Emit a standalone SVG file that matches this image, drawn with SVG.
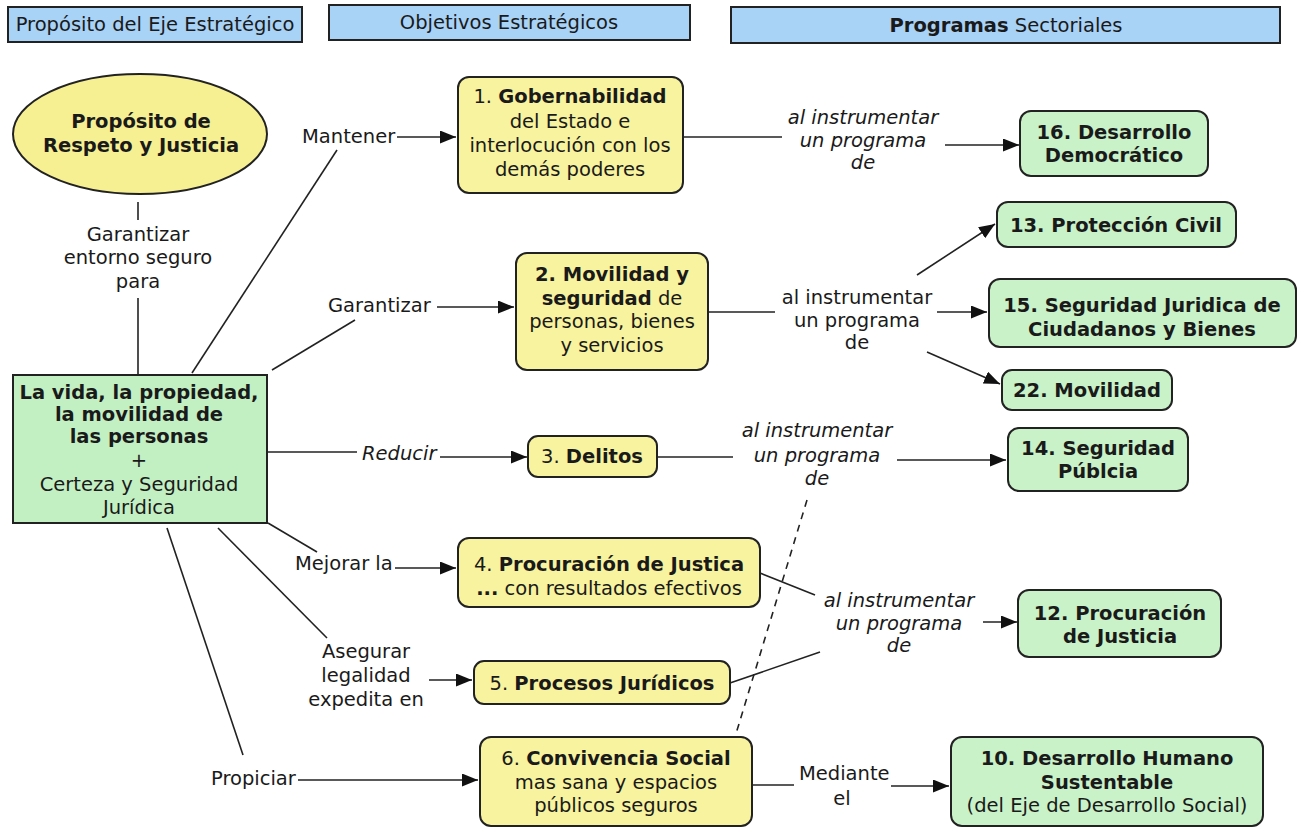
<svg xmlns="http://www.w3.org/2000/svg" width="1300" height="828" viewBox="0 0 1300 828">
<style>
text{font-family:"DejaVu Sans",Verdana,sans-serif;font-size:19.5px;fill:#1a1a1a}
.c{text-anchor:middle}
.b{font-weight:bold}
.i{font-style:italic}
.hdr{fill:#a8d2f6;stroke:#222;stroke-width:2}
.y{fill:#f8f39e;stroke:#222;stroke-width:2}
.g{fill:#c9f2c9;stroke:#222;stroke-width:2}
.ln{fill:none;stroke:#222;stroke-width:1.6}
.ar{fill:none;stroke:#222;stroke-width:1.6;marker-end:url(#ah)}
.ds{fill:none;stroke:#222;stroke-width:1.6;stroke-dasharray:7 6}
</style>
<defs>
<marker id="ah" viewBox="0 0 16 13" refX="16" refY="6.5" markerWidth="16" markerHeight="13" markerUnits="userSpaceOnUse" orient="auto">
<path d="M0,0 L16,6.5 L0,13 z" fill="#111"/>
</marker>
</defs>
<rect width="1300" height="828" fill="#ffffff"/>

<g id="headers">
<g id="h1"><rect class="hdr" x="8" y="7" width="294" height="35"/><text class="c" x="155" y="31">Propósito del Eje Estratégico</text></g>
<g id="h2"><rect class="hdr" x="329" y="5" width="361" height="35"/><text class="c" x="509" y="29">Objetivos Estratégicos</text></g>
<g id="h3"><rect class="hdr" x="731" y="7" width="549" height="36"/><text class="c" x="1006" y="32"><tspan class="b">Programas</tspan> Sectoriales</text></g>
</g>

<g id="connectors">
<line class="ln" x1="138" y1="202" x2="138" y2="220"/>
<line class="ln" x1="138" y1="298" x2="138" y2="374"/>
<line class="ln" x1="192" y1="373" x2="337" y2="150"/>
<line class="ar" x1="397" y1="137" x2="456" y2="137"/>
<line class="ln" x1="272" y1="370" x2="355" y2="320"/>
<line class="ar" x1="437" y1="307" x2="514" y2="307"/>
<line class="ln" x1="268" y1="452" x2="357" y2="452"/>
<line class="ar" x1="440" y1="457" x2="527" y2="457"/>
<line class="ln" x1="268" y1="523" x2="317" y2="552"/>
<line class="ar" x1="395" y1="568" x2="456" y2="568"/>
<line class="ln" x1="218" y1="528" x2="327" y2="638"/>
<line class="ar" x1="429" y1="680" x2="472" y2="680"/>
<line class="ln" x1="167" y1="528" x2="243" y2="755"/>
<line class="ar" x1="298" y1="780" x2="478" y2="780"/>
<line class="ln" x1="683" y1="137" x2="782" y2="137"/>
<line class="ar" x1="945" y1="145" x2="1019" y2="145"/>
<line class="ln" x1="708" y1="312" x2="775" y2="312"/>
<line class="ar" x1="917" y1="275" x2="995" y2="224"/>
<line class="ar" x1="937" y1="312" x2="987" y2="312"/>
<line class="ar" x1="927" y1="352" x2="1000" y2="384"/>
<line class="ln" x1="657" y1="457" x2="733" y2="457"/>
<line class="ar" x1="897" y1="460" x2="1006" y2="460"/>
<line class="ds" x1="807" y1="500" x2="735" y2="737"/>
<line class="ln" x1="760" y1="573" x2="815" y2="595"/>
<line class="ln" x1="730" y1="683" x2="820" y2="652"/>
<line class="ar" x1="983" y1="622" x2="1017" y2="622"/>
<line class="ln" x1="752" y1="785" x2="794" y2="785"/>
<line class="ar" x1="891" y1="786" x2="949" y2="786"/>

<text class="c" x="138" y="241">Garantizar</text>
<text class="c" x="138" y="264">entorno seguro</text>
<text class="c" x="138" y="288">para</text>
<text x="302" y="143">Mantener</text>
<text x="328" y="312">Garantizar</text>
<text class="i" x="362" y="460">Reducir</text>
<text x="295" y="570">Mejorar la</text>
<text class="c" x="366" y="658">Asegurar</text>
<text class="c" x="366" y="682">legalidad</text>
<text class="c" x="366" y="706">expedita en</text>
<text x="211" y="785">Propiciar</text>
<text class="c i" x="863" y="124">al instrumentar</text>
<text class="c i" x="863" y="147">un programa</text>
<text class="c i" x="863" y="169">de</text>
<text class="c" x="857" y="304">al instrumentar</text>
<text class="c" x="857" y="327">un programa</text>
<text class="c" x="857" y="349">de</text>
<text class="c i" x="817" y="437">al instrumentar</text>
<text class="c i" x="817" y="462">un programa</text>
<text class="c i" x="817" y="485">de</text>
<text class="c i" x="899" y="607">al instrumentar</text>
<text class="c i" x="899" y="630">un programa</text>
<text class="c i" x="899" y="652">de</text>
<text x="799" y="780">Mediante</text>
<text class="c" x="842" y="805">el</text>
</g>

<g id="proposito">
<ellipse cx="140" cy="134" rx="127" ry="60" fill="#f6f092" stroke="#222" stroke-width="2"/>
<text class="c b" x="141" y="128">Propósito de</text>
<text class="c b" x="141" y="152">Respeto y Justicia</text>
</g>

<g id="vida">
<rect x="13" y="375" width="254" height="148" fill="#c3f0c3" stroke="#222" stroke-width="2"/>
<text class="c b" x="139" y="399">La vida, la propiedad,</text>
<text class="c b" x="139" y="421">la movilidad de</text>
<text class="c b" x="139" y="443">las personas</text>
<text class="c" x="139" y="467">+</text>
<text class="c" x="139" y="491">Certeza y Seguridad</text>
<text class="c" x="139" y="514">Jurídica</text>
</g>

<g id="obj1">
<rect class="y" x="458" y="77" width="225" height="116" rx="11"/>
<text class="c" x="570" y="103">1. <tspan class="b">Gobernabilidad</tspan></text>
<text class="c" x="570" y="128">del Estado e</text>
<text class="c" x="570" y="152">interlocución con los</text>
<text class="c" x="570" y="176">demás poderes</text>
</g>

<g id="obj2">
<rect class="y" x="516" y="253" width="192" height="117" rx="11"/>
<text class="c b" x="612" y="281">2. Movilidad y</text>
<text class="c" x="612" y="305"><tspan class="b">seguridad</tspan> de</text>
<text class="c" x="612" y="328">personas, bienes</text>
<text class="c" x="612" y="352">y servicios</text>
</g>

<g id="obj3">
<rect class="y" x="528" y="436" width="129" height="41" rx="10"/>
<text class="c" x="592" y="463">3. <tspan class="b">Delitos</tspan></text>
</g>

<g id="obj4">
<rect class="y" x="458" y="538" width="302" height="69" rx="11"/>
<text class="c" x="609" y="571">4. <tspan class="b">Procuración de Justica</tspan></text>
<text class="c" x="609" y="595"><tspan class="b">...</tspan> con resultados efectivos</text>
</g>

<g id="obj5">
<rect class="y" x="474" y="661" width="256" height="43" rx="10"/>
<text class="c" x="602" y="690">5. <tspan class="b">Procesos Jurídicos</tspan></text>
</g>

<g id="obj6">
<rect class="y" x="480" y="737" width="272" height="89" rx="11"/>
<text class="c" x="616" y="765">6. <tspan class="b">Convivencia Social</tspan></text>
<text class="c" x="616" y="789">mas sana y espacios</text>
<text class="c" x="616" y="812">públicos seguros</text>
</g>

<g id="p16">
<rect class="g" x="1020" y="111" width="188" height="65" rx="11"/>
<text class="c b" x="1114" y="139">16. Desarrollo</text>
<text class="c b" x="1114" y="162">Democrático</text>
</g>

<g id="p13">
<rect class="g" x="997" y="202" width="239" height="45" rx="11"/>
<text class="c b" x="1116" y="232">13. Protección Civil</text>
</g>

<g id="p15">
<rect class="g" x="989" y="279" width="307" height="68" rx="11"/>
<text class="c b" x="1142" y="312">15. Seguridad Juridica de</text>
<text class="c b" x="1142" y="336">Ciudadanos y Bienes</text>
</g>

<g id="p22">
<rect class="g" x="1002" y="370" width="170" height="40" rx="10"/>
<text class="c b" x="1087" y="397">22. Movilidad</text>
</g>

<g id="p14">
<rect class="g" x="1008" y="428" width="180" height="63" rx="11"/>
<text class="c b" x="1098" y="455">14. Seguridad</text>
<text class="c b" x="1098" y="478">Públcia</text>
</g>

<g id="p12">
<rect class="g" x="1018" y="590" width="203" height="67" rx="11"/>
<text class="c b" x="1120" y="620">12. Procuración</text>
<text class="c b" x="1120" y="643">de Justicia</text>
</g>

<g id="p10">
<rect class="g" x="951" y="737" width="312" height="89" rx="11"/>
<text class="c b" x="1107" y="765">10. Desarrollo Humano</text>
<text class="c b" x="1107" y="789">Sustentable</text>
<text class="c" x="1107" y="812">(del Eje de Desarrollo Social)</text>
</g>
</svg>
